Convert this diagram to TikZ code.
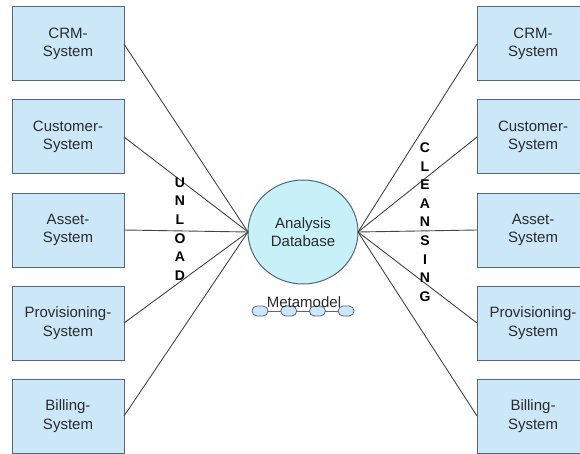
\documentclass[tikz,border=0pt]{standalone}
\usepackage{fontspec}
\setmainfont{Liberation Sans}
\usetikzlibrary{shapes.geometric, positioning}

\definecolor{boxFill}{HTML}{CCE7F8}
\definecolor{boxLine}{HTML}{56677A}
\definecolor{dbFill}{HTML}{C8F0F8}
\definecolor{dbLine}{HTML}{4E6A6E}
\definecolor{wire}{HTML}{444444}
\definecolor{ink}{HTML}{2B2B2B}

\begin{document}
\begin{tikzpicture}[
    x=1pt, y=1pt,
    sysWidth/.style={minimum width=112pt},
    sysHeight/.style={minimum height=74pt},
    sysBox/.style={sysWidth, sysHeight, draw=boxLine, fill=boxFill, line width=1pt, inner sep=0pt, outer sep=0pt},
    link/.style={draw=wire, line width=0.9pt},
    pill/.style={draw=boxLine, fill=boxFill, line width=0.8pt, rounded corners=5pt, minimum width=16pt, minimum height=10pt, inner sep=0pt, outer sep=0pt},
    spelled/.style={font=\fontsize{14}{18.6}\selectfont\bfseries, text=black},
    every node/.style={
        text centered,
        align=center,
        text=ink,
        font=\fontsize{15}{18.5}\selectfont
        }
        ]
    \useasboundingbox (0, 0) rectangle (580, 453);

    % source systems
    \node[sysBox] (crmL) at (68, 409) {CRM-\\System};
    \node[sysBox, below=19pt of crmL] (custL) {Customer-\\System};
    \node[sysBox, below=19pt of custL] (assetL) {Asset-\\System};
    \node[sysBox, below=19pt of assetL] (provL) {Provisioning-\\System};
    \node[sysBox, below=19pt of provL] (billL) {Billing-\\System};

    % cleansed systems
    \node[sysBox, right=353pt of crmL] (crmR) {CRM-\\System};
    \node[sysBox, below=19pt of crmR] (custR) {Customer-\\System};
    \node[sysBox, below=19pt of custR] (assetR) {Asset-\\System};
    \node[sysBox, below=19pt of assetR] (provR) {Provisioning-\\System};
    \node[sysBox, below=19pt of provR] (billR) {Billing-\\System};

    \node[ellipse, draw=dbLine, fill=dbFill, line width=1pt, minimum width=110pt, minimum height=104pt, inner sep=0pt, outer sep=0pt] (db) at (303, 221) {Analysis\\Database};

    \draw[link] (crmL.east) -- (db.west);
    \draw[link] (custL.east) -- (db.west);
    \draw[link] (assetL.east) -- (db.west);
    \draw[link] (provL.east) -- (db.west);
    \draw[link] (billL.east) -- (db.west);

    \draw[link] (db.east) -- (crmR.west);
    \draw[link] (db.east) -- (custR.west);
    \draw[link] (db.east) -- (assetR.west);
    \draw[link] (db.east) -- (provR.west);
    \draw[link] (db.east) -- (billR.west);

    \node[spelled] (unload) at (180, 224) {U\\N\\L\\O\\A\\D};
    \node[spelled] (cleansing) at (425, 231) {C\\L\\E\\A\\N\\S\\I\\N\\G};

    % metamodel chain
    \node[pill] (mm1) at (260, 142) {};
    \node[pill, right=12.7pt of mm1] (mm2) {};
    \node[pill, right=12.7pt of mm2] (mm3) {};
    \node[pill, right=12.7pt of mm3] (mm4) {};
    \draw[draw=boxLine, line width=0.8pt] (mm1.east) -- (mm2.west);
    \draw[draw=boxLine, line width=0.8pt] (mm2.east) -- (mm3.west);
    \draw[draw=boxLine, line width=0.8pt] (mm3.east) -- (mm4.west);
    \node (meta) at (304, 151) {Metamodel};
\end{tikzpicture}
\end{document}
